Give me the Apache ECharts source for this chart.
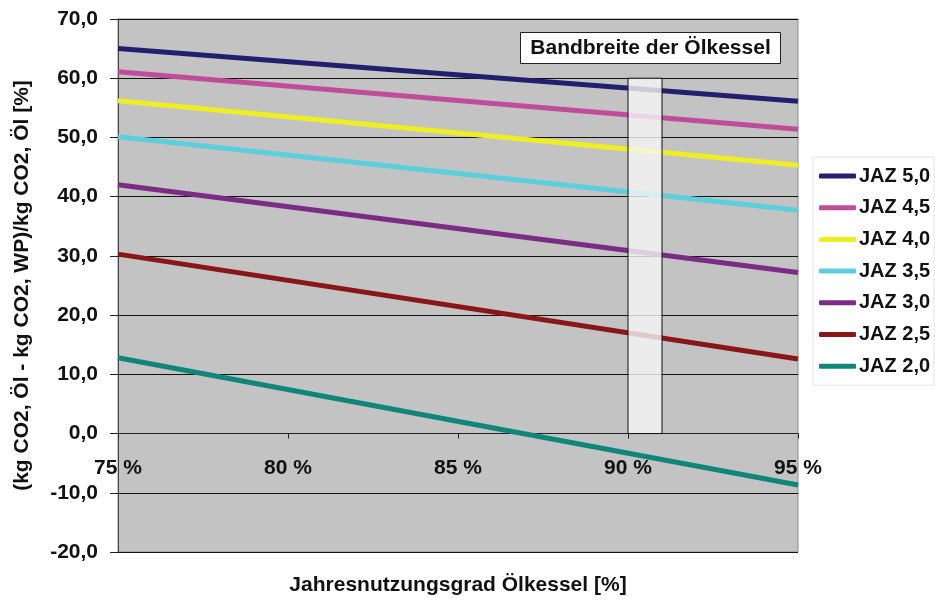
<!DOCTYPE html>
<html>
<head>
<meta charset="utf-8">
<script src="https://cdn.jsdelivr.net/npm/echarts@6/dist/echarts.min.js"></script>
<style>
  html, body { margin: 0; padding: 0; background: #fff; }
  #chart { width: 935px; height: 603px; }
</style>
</head>
<body>
<div id="chart"></div>
<script>
// Jahresnutzungsgrad des Ölkessels (x, in %)
const efficiency = [75, 95];

// CO2-Einsparung der Wärmepumpe gegenüber dem Ölkessel [%], je JAZ
const seriesNames = ['JAZ 5,0', 'JAZ 4,5', 'JAZ 4,0', 'JAZ 3,5', 'JAZ 3,0', 'JAZ 2,5', 'JAZ 2,0'];
const jaz50 = [65.0, 56.1];
const jaz45 = [61.1, 51.4];
const jaz40 = [56.2, 45.3];
const jaz35 = [50.1, 37.7];
const jaz30 = [42.0, 27.2];
const jaz25 = [30.3, 12.6];
const jaz20 = [12.8, -8.7];
const seriesValues = [jaz50, jaz45, jaz40, jaz35, jaz30, jaz25, jaz20];
const seriesColors = ['#22206e', '#c04c9c', '#eeee22', '#5ccfdc', '#7b2c84', '#8a1717', '#10857a'];

// Bandbreite der Ölkessel: Jahresnutzungsgrad 90–91 %, Einsparung 0–60 %
const bandX = [90, 91];
const bandY = [0, 60];
const bandLabel = 'Bandbreite der Ölkessel';

const yTicks = { min: -20, max: 70, interval: 10 };
const xTicks = { min: 75, max: 95, interval: 5 };

const FONT = '"Liberation Sans", Arial, sans-serif';

const chart = echarts.init(document.getElementById('chart'), null, { renderer: 'canvas' });

const lineSeries = seriesNames.map((name, i) => ({
  name: name,
  type: 'line',
  symbol: 'none',
  z: 2,
  lineStyle: { width: 5, color: seriesColors[i] },
  itemStyle: { color: seriesColors[i] },
  data: efficiency.map((x, j) => [x, seriesValues[i][j]])
}));

const bandSeries = {
  name: 'band',
  type: 'line',
  data: [],
  z: 10,
  silent: true,
  markArea: {
    silent: true,
    z: 10,
    itemStyle: {
      color: 'rgba(246,246,246,0.8)',
      borderColor: '#111',
      borderWidth: 1
    },
    data: [[
      { xAxis: bandX[0], yAxis: bandY[0] },
      { xAxis: bandX[1], yAxis: bandY[1] }
    ]]
  }
};

chart.setOption({
  backgroundColor: '#ffffff',
  animation: false,
  textStyle: { fontFamily: FONT },
  grid: {
    left: 118, right: 137, top: 19, bottom: 51,
    containLabel: false,
    outerBoundsMode: 'none',
    show: true,
    backgroundColor: '#c3c3c3',
    borderColor: '#8a8a8a',
    borderWidth: 1
  },
  legend: {
    orient: 'vertical',
    left: 813,
    top: 157,
    data: seriesNames,
    icon: 'roundRect',
    itemWidth: 37,
    itemHeight: 5,
    itemGap: 11.7,
    padding: [9, 4, 9, 6],
    backgroundColor: '#ffffff',
    borderColor: '#e4e4e4',
    borderWidth: 1,
    textStyle: { fontFamily: FONT, fontSize: 20, fontWeight: 'bold', color: '#111', lineHeight: 20, padding: [0, 0, 0, -2] }
  },
  xAxis: {
    type: 'value',
    position: 'bottom',
    min: xTicks.min,
    max: xTicks.max,
    interval: xTicks.interval,
    offset: 0,
    name: 'Jahresnutzungsgrad Ölkessel [%]',
    nameLocation: 'middle',
    nameGap: 141,
    nameTextStyle: { fontFamily: FONT, fontSize: 21, fontWeight: 'bold', color: '#111', verticalAlign: 'top' },
    axisLine: { onZero: false, lineStyle: { color: '#222', width: 1 } },
    axisTick: { show: true, inside: false, length: 5, lineStyle: { color: '#222' } },
    axisLabel: {
      margin: 24,
      fontFamily: FONT, fontSize: 21, fontWeight: 'bold', color: '#111',
      formatter: v => v + ' %'
    },
    splitLine: { show: false }
  },
  yAxis: {
    type: 'value',
    min: yTicks.min,
    max: yTicks.max,
    interval: yTicks.interval,
    name: '(kg CO2, Öl - kg CO2, WP)/kg CO2, Öl [%]',
    nameLocation: 'middle',
    nameGap: 85,
    nameTextStyle: { fontFamily: FONT, fontSize: 21, fontWeight: 'bold', color: '#111' },
    axisLine: { show: true, onZero: false, lineStyle: { color: '#444', width: 1 } },
    axisTick: { show: true, inside: false, length: 8, lineStyle: { color: '#222' } },
    axisLabel: {
      margin: 20,
      fontFamily: FONT, fontSize: 21, fontWeight: 'bold', color: '#111',
      formatter: v => v.toFixed(1).replace('.', ',')
    },
    splitLine: { show: true, lineStyle: { color: '#111', width: 1 } }
  },
  graphic: [{
    type: 'group',
    left: 520,
    top: 32,
    z: 20,
    children: [{
      type: 'rect',
      shape: { x: 0, y: 0, width: 260, height: 31 },
      style: { fill: '#ffffff', stroke: '#222', lineWidth: 1 }
    }, {
      type: 'text',
      x: 130,
      y: 16,
      style: {
        text: bandLabel,
        fontFamily: FONT, fontSize: 21, fontWeight: 'bold', fill: '#111',
        align: 'center', verticalAlign: 'middle'
      }
    }]
  }],
  series: lineSeries.concat([bandSeries])
});

// Shift the x axis (line, ticks, labels) up onto the zero line of the y scale
const zeroY = chart.convertToPixel({ yAxisIndex: 0 }, 0);
const bottomY = chart.convertToPixel({ yAxisIndex: 0 }, yTicks.min);
chart.setOption({ xAxis: { offset: -(bottomY - zeroY) } });
</script>
</body>
</html>
